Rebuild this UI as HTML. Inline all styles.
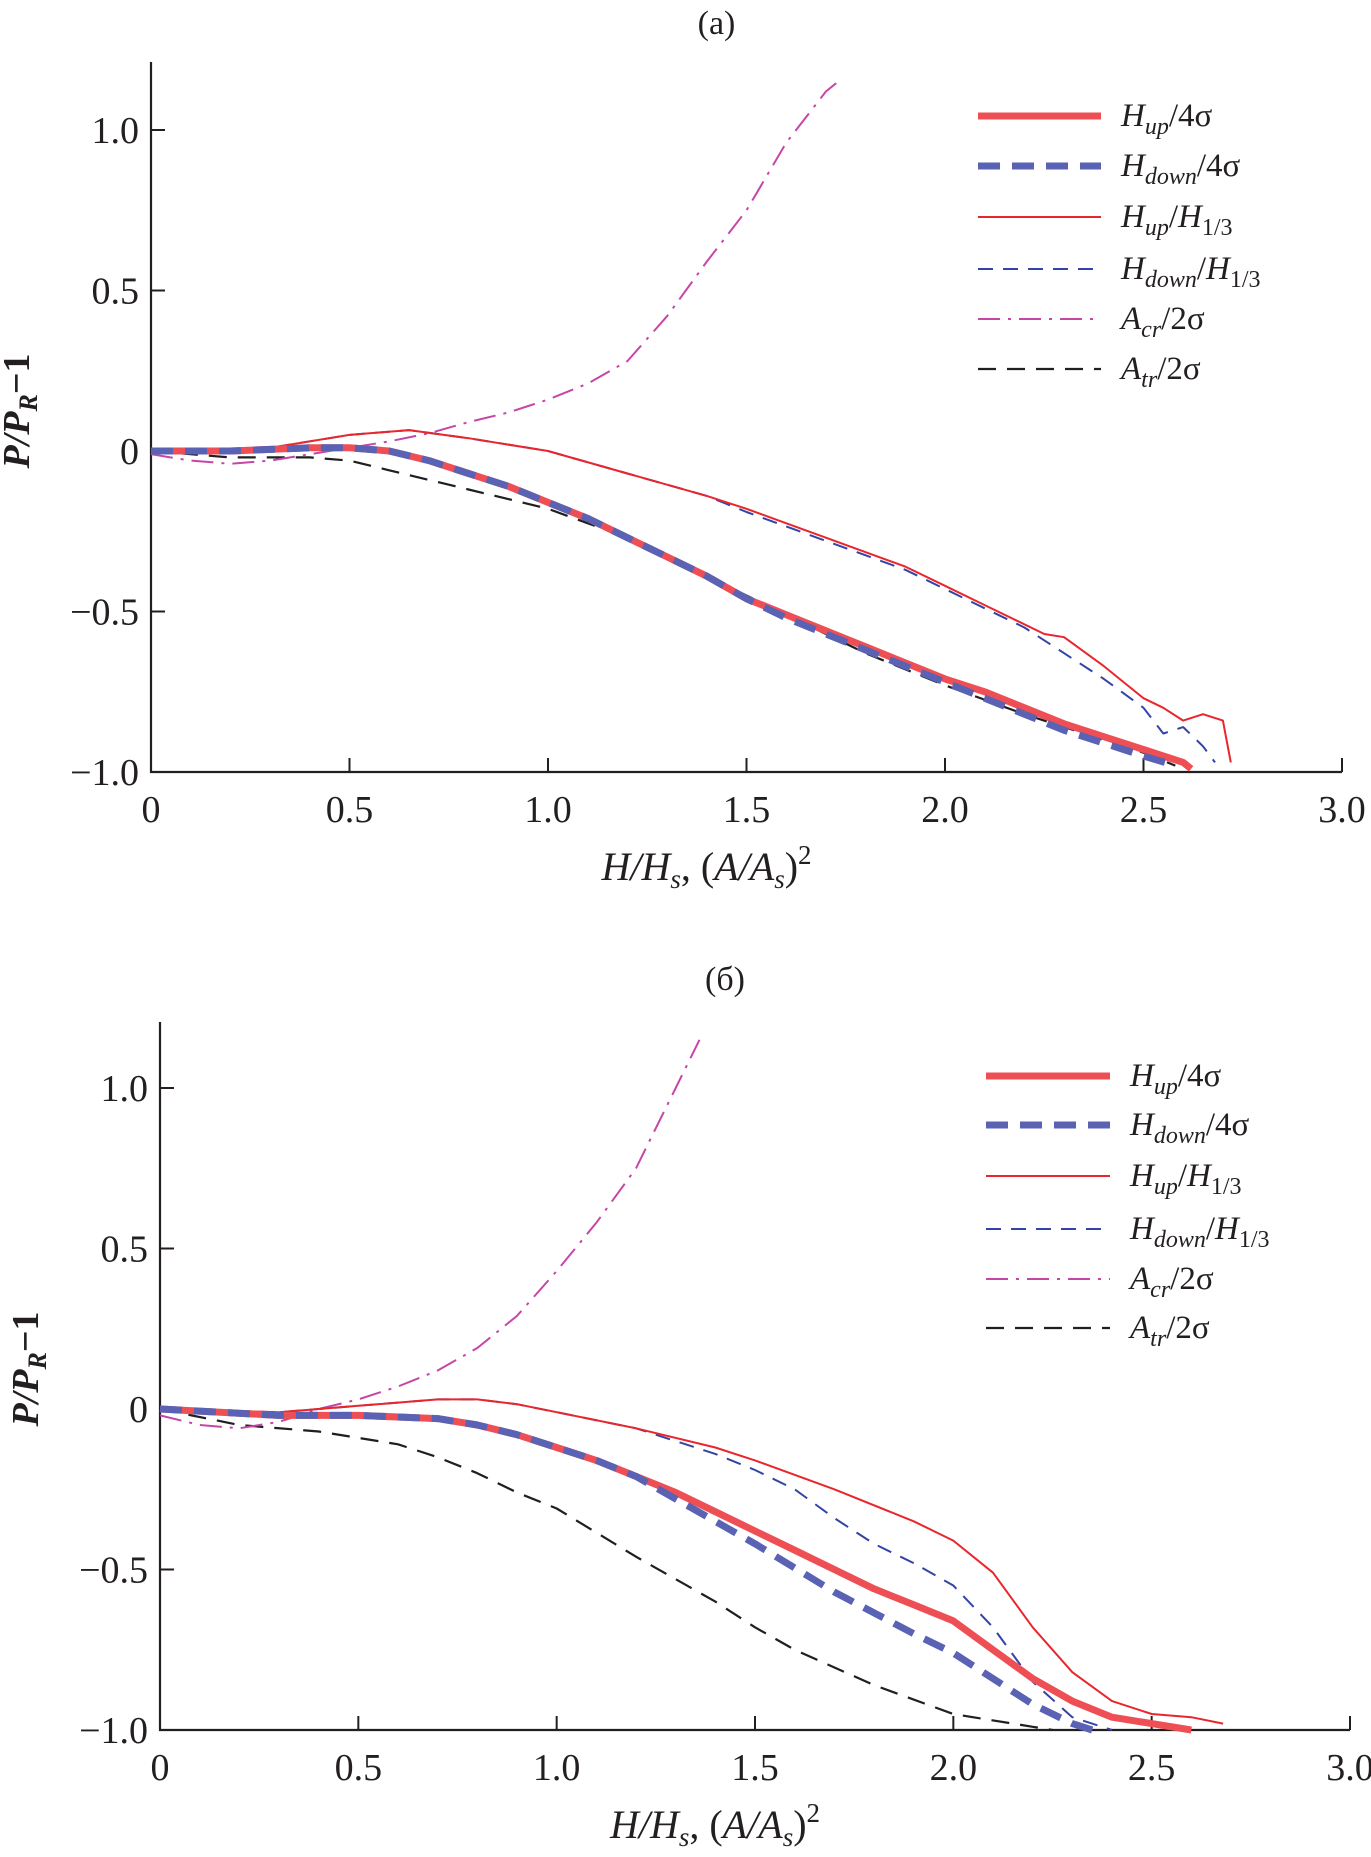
<!DOCTYPE html>
<html><head><meta charset="utf-8"><style>
html,body{margin:0;padding:0;background:#fff}
svg{display:block}
text{font-family:"Liberation Serif",serif;fill:#231f20}
</style></head><body>
<svg id="chart" width="1371" height="1857" viewBox="0 0 1371 1857" xmlns="http://www.w3.org/2000/svg"></svg>
<script>
// ---------- Data ----------
const xTicks = [0, 0.5, 1.0, 1.5, 2.0, 2.5, 3.0];
const xTickLabels = ["0", "0.5", "1.0", "1.5", "2.0", "2.5", "3.0"];
const yTicks = [1.0, 0.5, 0, -0.5, -1.0];
const yTickLabels = ["1.0", "0.5", "0", "\u22120.5", "\u22121.0"];

// Panel (a)
const aUp4X   = [0,0.2,0.4,0.5,0.6,0.7,0.8,0.9,1.0,1.1,1.2,1.3,1.4,1.5,1.6,1.7,1.8,1.9,2.0,2.1,2.2,2.3,2.4,2.5,2.55,2.6,2.62];
const aUp4Y   = [0,0.0,0.01,0.01,0.0,-0.03,-0.07,-0.11,-0.16,-0.21,-0.27,-0.33,-0.39,-0.46,-0.51,-0.56,-0.61,-0.66,-0.71,-0.75,-0.80,-0.85,-0.89,-0.93,-0.95,-0.97,-0.99];
const aDn4X   = [0,0.2,0.4,0.5,0.6,0.7,0.8,0.9,1.0,1.1,1.2,1.3,1.4,1.5,1.6,1.7,1.8,1.9,2.0,2.1,2.2,2.3,2.4,2.5,2.58];
const aDn4Y   = [0,0.0,0.01,0.01,0.0,-0.03,-0.07,-0.11,-0.16,-0.21,-0.27,-0.33,-0.39,-0.46,-0.52,-0.57,-0.62,-0.67,-0.72,-0.77,-0.82,-0.87,-0.91,-0.95,-0.98];
const aUpHX   = [0,0.3,0.5,0.65,0.8,1.0,1.2,1.4,1.5,1.7,1.9,2.0,2.1,2.25,2.3,2.4,2.5,2.55,2.6,2.65,2.7,2.72];
const aUpHY   = [0,0.01,0.05,0.065,0.04,0.0,-0.07,-0.14,-0.18,-0.27,-0.36,-0.42,-0.48,-0.57,-0.58,-0.67,-0.77,-0.80,-0.84,-0.82,-0.84,-0.97];
const aDnHX   = [0,0.3,0.5,0.65,0.8,1.0,1.2,1.4,1.5,1.7,1.9,2.0,2.1,2.2,2.3,2.4,2.5,2.55,2.6,2.65,2.68];
const aDnHY   = [0,0.01,0.05,0.065,0.04,0.0,-0.07,-0.14,-0.19,-0.28,-0.37,-0.43,-0.49,-0.55,-0.63,-0.71,-0.80,-0.88,-0.86,-0.92,-0.97];
const aCrX    = [0,0.1,0.2,0.3,0.4,0.5,0.6,0.7,0.8,0.9,1.0,1.1,1.2,1.3,1.4,1.5,1.6,1.7,1.73];
const aCrY    = [-0.01,-0.03,-0.04,-0.03,-0.01,0.01,0.03,0.055,0.09,0.12,0.16,0.21,0.28,0.42,0.59,0.75,0.96,1.12,1.15];
const aTrX    = [0,0.2,0.4,0.5,0.6,0.7,0.8,0.9,1.0,1.2,1.5,1.8,2.0,2.2,2.4,2.5,2.58];
const aTrY    = [0,-0.02,-0.02,-0.03,-0.06,-0.09,-0.12,-0.15,-0.18,-0.27,-0.45,-0.63,-0.73,-0.82,-0.90,-0.94,-0.98];

// Panel (b)
const bUp4X   = [0,0.3,0.5,0.7,0.8,0.9,1.0,1.1,1.2,1.3,1.4,1.5,1.6,1.7,1.8,1.9,2.0,2.1,2.2,2.3,2.4,2.5,2.6];
const bUp4Y   = [0,-0.02,-0.02,-0.03,-0.05,-0.08,-0.12,-0.16,-0.21,-0.26,-0.32,-0.38,-0.44,-0.50,-0.56,-0.61,-0.66,-0.75,-0.84,-0.91,-0.96,-0.98,-1.0];
const bDn4X   = [0,0.3,0.5,0.7,0.8,0.9,1.0,1.1,1.2,1.3,1.5,1.7,1.9,2.0,2.1,2.2,2.3,2.35];
const bDn4Y   = [0,-0.02,-0.02,-0.03,-0.05,-0.08,-0.12,-0.16,-0.21,-0.28,-0.42,-0.57,-0.70,-0.76,-0.84,-0.92,-0.98,-1.0];
const bUpHX   = [0,0.3,0.5,0.7,0.8,0.9,1.0,1.2,1.4,1.5,1.7,1.9,2.0,2.1,2.2,2.3,2.4,2.5,2.6,2.68];
const bUpHY   = [0,-0.01,0.01,0.03,0.03,0.015,-0.01,-0.06,-0.12,-0.16,-0.25,-0.35,-0.41,-0.51,-0.68,-0.82,-0.91,-0.95,-0.96,-0.98];
const bDnHX   = [0,0.3,0.5,0.7,0.8,0.9,1.0,1.2,1.4,1.5,1.6,1.7,1.8,1.9,2.0,2.1,2.2,2.3,2.4];
const bDnHY   = [0,-0.01,0.01,0.03,0.03,0.015,-0.01,-0.06,-0.14,-0.19,-0.25,-0.34,-0.42,-0.48,-0.55,-0.68,-0.85,-0.96,-1.0];
const bCrX    = [0,0.1,0.2,0.3,0.4,0.5,0.6,0.7,0.8,0.9,1.0,1.1,1.2,1.3,1.36];
const bCrY    = [-0.02,-0.05,-0.06,-0.04,0.0,0.03,0.07,0.12,0.19,0.29,0.43,0.58,0.75,1.0,1.15];
const bTrX    = [0,0.2,0.4,0.5,0.6,0.7,0.8,0.9,1.0,1.2,1.4,1.5,1.6,1.8,2.0,2.2,2.25];
const bTrY    = [0,-0.05,-0.07,-0.09,-0.11,-0.15,-0.20,-0.26,-0.31,-0.46,-0.60,-0.68,-0.75,-0.86,-0.95,-0.99,-1.0];

// ---------- Rendering ----------
const NS = "http://www.w3.org/2000/svg";
const svg = document.getElementById("chart");
function mk(tag, attrs, parent){
  const e = document.createElementNS(NS, tag);
  for (const k in attrs) e.setAttribute(k, attrs[k]);
  (parent||svg).appendChild(e);
  return e;
}

const styles = {
  up4: {stroke:"#ee4f55", width:7, dash:""},
  dn4: {stroke:"#5a62b4", width:7, dash:"22,12"},
  upH: {stroke:"#e8262c", width:2, dash:""},
  dnH: {stroke:"#3444a6", width:2, dash:"15,10"},
  cr:  {stroke:"#c646a6", width:2, dash:"22,8,3,8"},
  tr:  {stroke:"#1f1f1f", width:2.2, dash:"18,11"}
};

function panel(cfg){
  const g = mk("g", {});
  
  
  const sx = v => cfg.x0 + (v/3.0)*(cfg.x3 - cfg.x0);
  const sy = v => cfg.y0 - v*(cfg.ym1 - cfg.y0);
  const t = mk("text", {x:(cfg.x0+cfg.x3)/2 - 30, y:cfg.titleY, "font-size":34, "text-anchor":"middle"}, g);
  t.textContent = cfg.title;
  
  
  const ax = mk("path", {d:`M${cfg.x0},${cfg.top} L${cfg.x0},${sy(-1)} L${cfg.x3},${sy(-1)}`, fill:"none", stroke:"#231f20", "stroke-width":2.2}, g);
  
  
  xTicks.forEach((v,i)=>{
    const tk = mk("line", {x1:sx(v), x2:sx(v), y1:sy(-1), y2:sy(-1)-14, stroke:"#231f20", "stroke-width":2}, g);
    
    
    const lb = mk("text", {x:sx(v), y:sy(-1)+50, "font-size":38, "text-anchor":"middle"}, g);
    lb.textContent = xTickLabels[i];
    
    
  });
  yTicks.forEach((v,i)=>{
    const tk = mk("line", {x1:cfg.x0, x2:cfg.x0+14, y1:sy(v), y2:sy(v), stroke:"#231f20", "stroke-width":2}, g);
    
    
    const lb = mk("text", {x:cfg.x0-12, y:sy(v)+13, "font-size":38, "text-anchor":"end"}, g);
    lb.textContent = yTickLabels[i];
    
    
  });
  const xt = mk("text", {x:(cfg.x0+cfg.x3)/2 - 40, y:sy(-1)+108, "font-size":40, "text-anchor":"middle", "font-style":"italic"}, g);
  xt.innerHTML = 'H/H<tspan font-size="27" dy="8">s</tspan><tspan dy="-8" font-style="normal">, (</tspan>A/A<tspan font-size="27" dy="8">s</tspan><tspan dy="-8" font-style="normal">)</tspan><tspan font-size="27" dy="-16" font-style="normal">2</tspan>';
  
  
  const yt = mk("text", {transform:`translate(${cfg.x0-122},${sy(0)-40}) rotate(-90)`, "font-size":38, "text-anchor":"middle", "font-style":"italic", "font-weight":"bold"}, g);
  yt.innerHTML = 'P/P<tspan font-size="26" dy="8">R</tspan><tspan dy="-8" font-style="normal">\u22121</tspan>';
  
  
  const order = ["tr","cr","dnH","upH","up4","dn4"];
  order.forEach(k=>{
    const xs = cfg.series[k][0], ys = cfg.series[k][1], st = styles[k];
    const d = xs.map((x,i)=>(i?"L":"M")+sx(x).toFixed(1)+","+sy(ys[i]).toFixed(1)).join(" ");
    const p = mk("path", {d:d, fill:"none", stroke:st.stroke, "stroke-width":st.width, "stroke-linejoin":"round"}, g);
    if (st.dash) p.setAttribute("stroke-dasharray", st.dash);
    
    
  });
  const labels = {
    up4:'H<tspan font-size="24" dy="8">up</tspan><tspan dy="-8" font-style="normal">/4\u03c3</tspan>',
    dn4:'H<tspan font-size="24" dy="8">down</tspan><tspan dy="-8" font-style="normal">/4\u03c3</tspan>',
    upH:'H<tspan font-size="24" dy="8">up</tspan><tspan dy="-8" font-style="normal">/</tspan>H<tspan font-size="24" dy="8" font-style="normal">1/3</tspan>',
    dnH:'H<tspan font-size="24" dy="8">down</tspan><tspan dy="-8" font-style="normal">/</tspan>H<tspan font-size="24" dy="8" font-style="normal">1/3</tspan>',
    cr:'A<tspan font-size="24" dy="8">cr</tspan><tspan dy="-8" font-style="normal">/2\u03c3</tspan>',
    tr:'A<tspan font-size="24" dy="8">tr</tspan><tspan dy="-8" font-style="normal">/2\u03c3</tspan>'
  };
  ["up4","dn4","upH","dnH","cr","tr"].forEach((k,i)=>{
    const y = cfg.legY[i], st = styles[k];
    const l = mk("line", {x1:cfg.legX1, x2:cfg.legX2, y1:y, y2:y, stroke:st.stroke, "stroke-width":st.width}, g);
    if (st.dash) l.setAttribute("stroke-dasharray", st.dash);
    
    
    const tx = mk("text", {x:cfg.legX2+20, y:y+10, "font-size":33, "font-style":"italic"}, g);
    tx.innerHTML = labels[k];
    
    
  });
}

panel({name:"panel-a", title:"(a)", titleY:34, x0:151, x3:1342, y0:451, ym1:772, top:62,
  legX1:978, legX2:1101, legY:[116,166,217,269,319,369],
  series:{up4:[aUp4X,aUp4Y], dn4:[aDn4X,aDn4Y], upH:[aUpHX,aUpHY], dnH:[aDnHX,aDnHY], cr:[aCrX,aCrY], tr:[aTrX,aTrY]}});
panel({name:"panel-b", title:"(\u0431)", titleY:990, x0:160, x3:1350, y0:1409, ym1:1730, top:1022,
  legX1:986, legX2:1110, legY:[1076,1125,1176,1229,1279,1328],
  series:{up4:[bUp4X,bUp4Y], dn4:[bDn4X,bDn4Y], upH:[bUpHX,bUpHY], dnH:[bDnHX,bDnHY], cr:[bCrX,bCrY], tr:[bTrX,bTrY]}});
</script>
</body></html>
